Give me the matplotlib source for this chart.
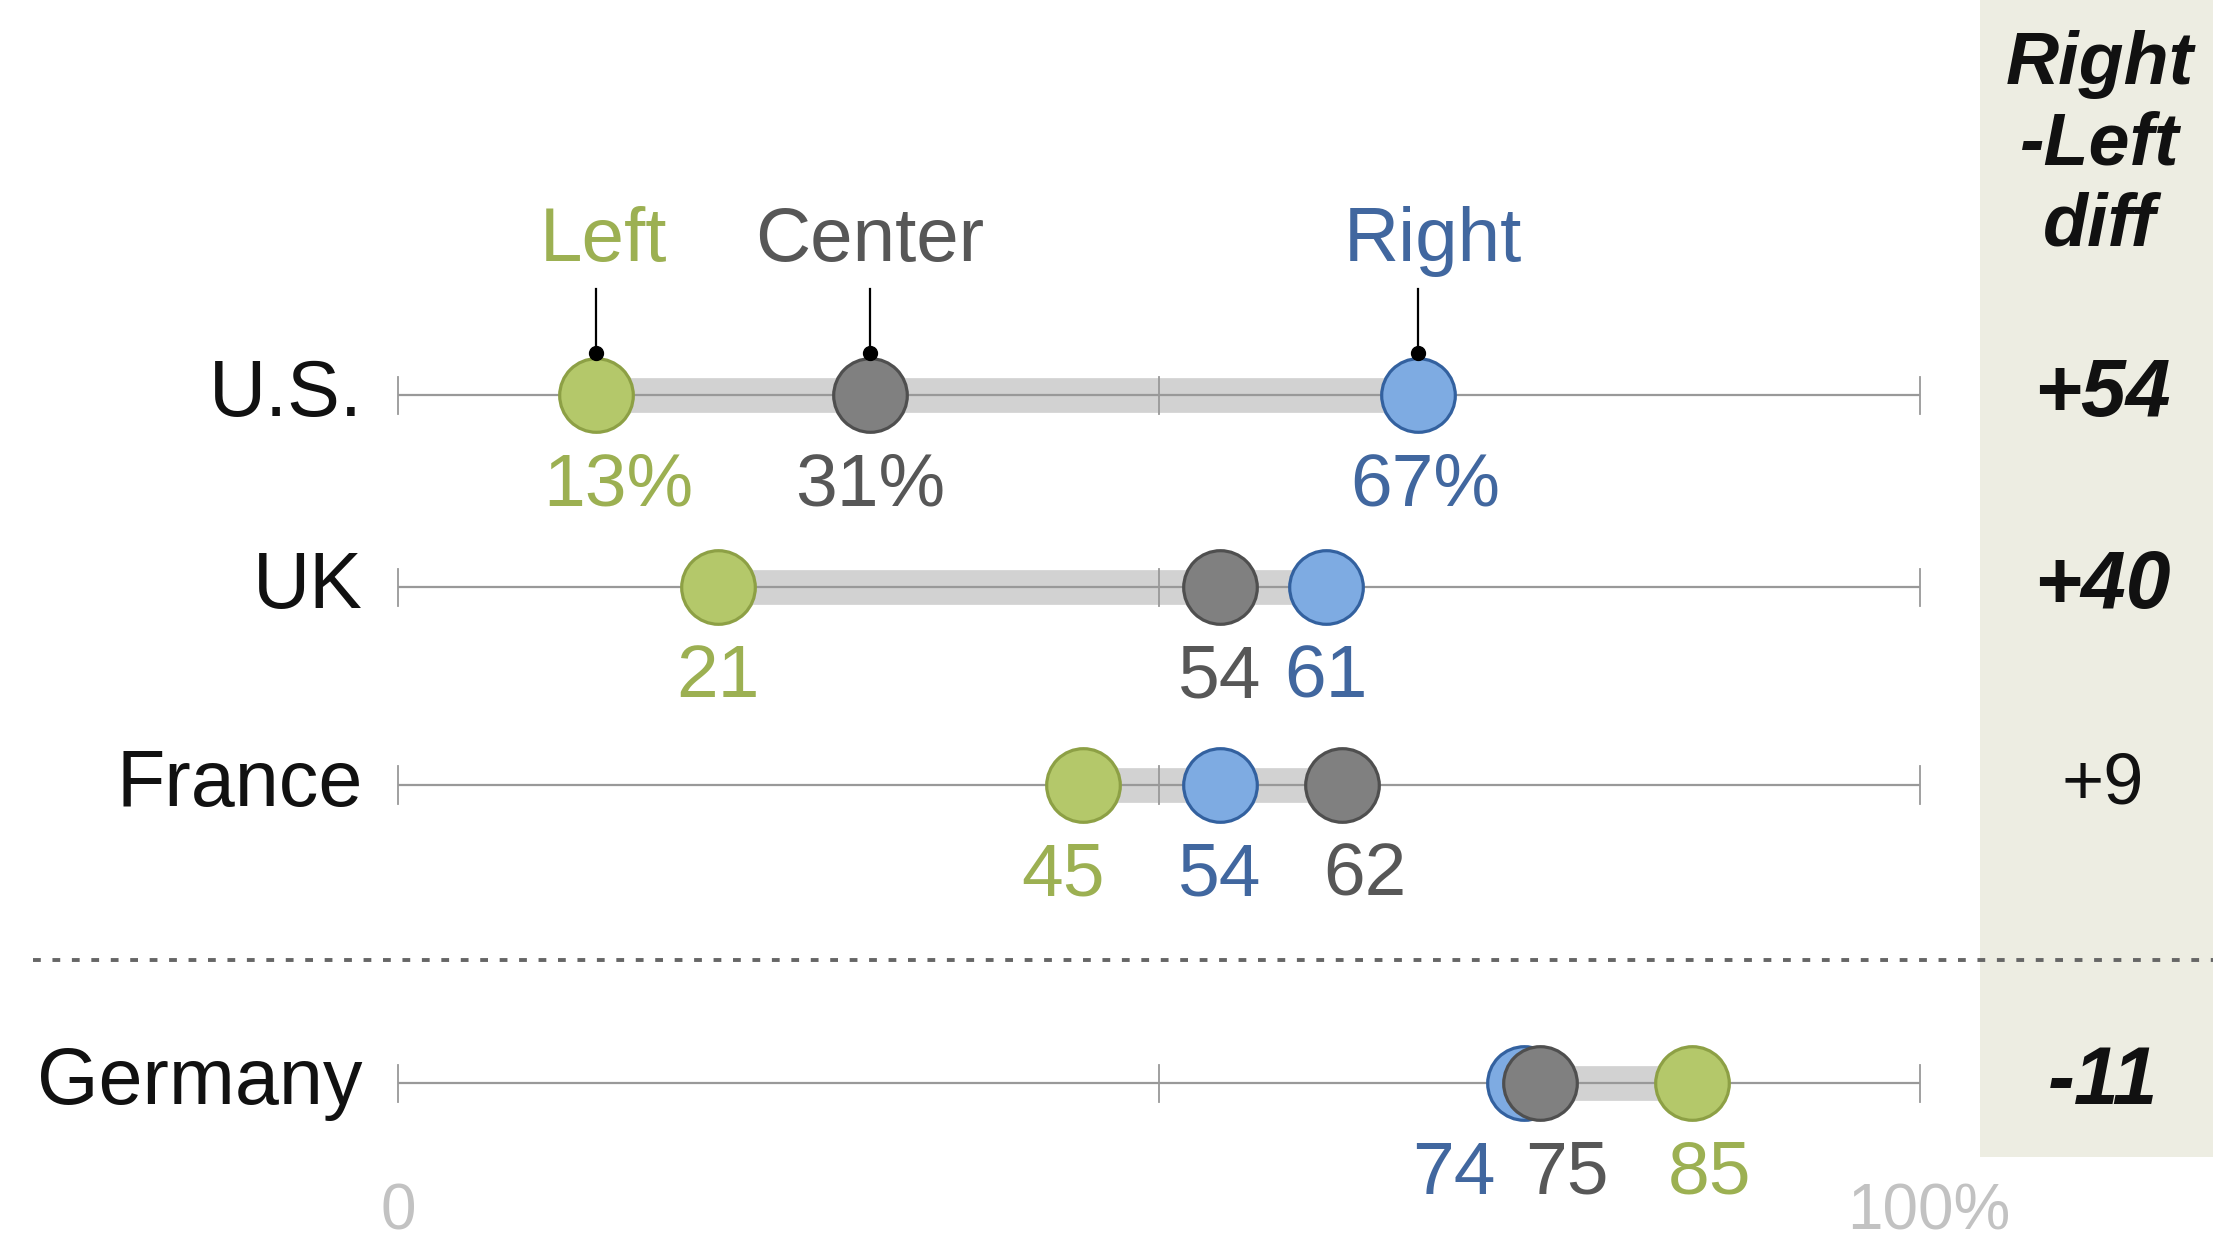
import numpy as np
import matplotlib
matplotlib.use("Agg")
from matplotlib import pyplot as plt
from matplotlib import font_manager

# data
countries = ["U.S.", "UK", "France", "Germany"]
left = [13, 21, 45, 85]
center = [31, 54, 62, 75]
right = [67, 61, 54, 74]
significant = [True, True, False, True]

# label nudges (x units) so the numbers don't collide
left_nudge = [1.5, 0, -1.3, 1.2]
center_nudge = [0, 0, 1.5, 1.8]
right_nudge = [0.5, 0, 0, -4.6]

row_y = [0, 0.985, 2.0, 3.53]

# colours
GREEN_FILL, GREEN_EDGE, GREEN_TXT = "#b4c86a", "#8da045", "#9cb052"
GRAY_FILL, GRAY_EDGE, GRAY_TXT = "#808080", "#4f4f4f", "#575757"
BLUE_FILL, BLUE_EDGE, BLUE_TXT = "#7eabe2", "#33619f", "#41679f"

names = set(f.name for f in font_manager.fontManager.ttflist)
fam = "DejaVu Sans"
for f in ["Liberation Sans Narrow", "DejaVu Sans Condensed", "Liberation Sans"]:
	if f in names:
		fam = f
		break
plt.rcParams['font.family'] = [fam, 'DejaVu Sans']

W, H = 2213, 1245
fig = plt.figure(figsize=(W/100, H/100), dpi=100)
ax = fig.add_axes([0, 0, 1, 1])
ax.set_xlim(-26.15, 119.25)
ax.set_ylim(4.359, -2.026)
ax.axis('off')

# diff column background
ax.axvspan(103.94, 119.25, ymin=(4.359-3.91)/6.385, ymax=1, color="#ededE2", zorder=0, lw=0)

for i, c in enumerate(countries):
	y = row_y[i]
	# axis line + ticks
	ax.plot([0, 100], [y, y], color="#999999", lw=1.6, zorder=2, solid_capstyle='butt')
	for t in [0, 50, 100]:
		ax.plot([t, t], [y-0.095, y+0.095], color="#999999", lw=1.3, zorder=2)
	vals = [left[i], center[i], right[i]]
	ax.plot([min(vals), max(vals)], [y, y], color="#d2d2d2", lw=25, zorder=1, solid_capstyle='butt')

	ax.plot(left[i], y, 'o', ms=53, mfc=GREEN_FILL, mec=GREEN_EDGE, mew=2.3, zorder=3)
	ax.plot(right[i], y, 'o', ms=53, mfc=BLUE_FILL, mec=BLUE_EDGE, mew=2.3, zorder=4)
	ax.plot(center[i], y, 'o', ms=53, mfc=GRAY_FILL, mec=GRAY_EDGE, mew=2.3, zorder=5)

	suf = "%" if i == 0 else ""
	ax.text(left[i]+left_nudge[i], y+0.565, str(left[i])+suf, color=GREEN_TXT, fontsize=54, ha='center', va='baseline')
	ax.text(center[i]+center_nudge[i], y+0.565, str(center[i])+suf, color=GRAY_TXT, fontsize=54, ha='center', va='baseline')
	ax.text(right[i]+right_nudge[i], y+0.565, str(right[i])+suf, color=BLUE_TXT, fontsize=54, ha='center', va='baseline')

	ax.text(-2.3, y, c, fontsize=57, color="#111111", ha='right', va='center')

	d = right[i] - left[i]
	lab = "%+d" % d
	if significant[i]:
		ax.text(112.0, y, lab, fontsize=58, fontweight='bold', fontstyle='italic', ha='center', va='center', color="#111111")
	else:
		ax.text(112.0, y, lab, fontsize=52, ha='center', va='center', color="#111111")

# series labels with leader lines (U.S. row)
for v, name, col, dx in [(left[0], "Left", GREEN_TXT, 0.5), (center[0], "Center", GRAY_TXT, 0), (right[0], "Right", BLUE_TXT, 1.0)]:
	ax.text(v+dx, -0.687, name, fontsize=55, color=col, ha='center', va='baseline')
	ax.plot([v, v], [-0.545, -0.215], color="black", lw=1.6, zorder=6)
	ax.plot(v, -0.215, 'o', ms=10, color="black", zorder=6)

ax.text(111.8, -1.28, "Right\n-Left\ndiff", fontsize=53, fontweight='bold', fontstyle='italic',
	ha='center', va='center', linespacing=1.22, color="#111111")

# divider between groups
ax.plot([-24.0, 119.25], [2.897, 2.897], color="#666666", lw=2.8, linestyle=(0, (2, 3)), zorder=2)

ax.text(0, 4.19, "0", fontsize=46, color="#c2c2c2", ha='center', va='center')
ax.text(100.6, 4.19, "100%", fontsize=46, color="#c2c2c2", ha='center', va='center')

fig.savefig("out.png", dpi=100)
